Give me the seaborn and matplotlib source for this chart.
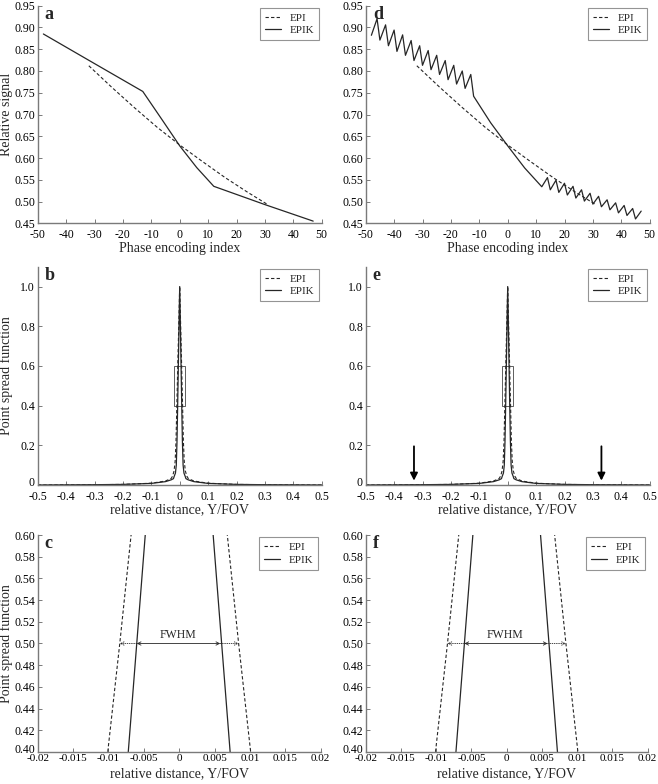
import numpy as np
import matplotlib
matplotlib.use('Agg')
import matplotlib.pyplot as plt
from matplotlib.patches import Rectangle
from matplotlib.transforms import ScaledTranslation
import seaborn as sns

# ---------------------------------------------------------------
# dados

# sinal relativo x índice de codificação de fase (EPI, igual em a e d)
epi_idx = [-32, -24, -16, -8, 0, 8, 16, 24, 31]
epi_sig = [0.812, 0.763, 0.716, 0.671, 0.630, 0.592, 0.555, 0.521, 0.493]

# EPIK, painel a (segmentos lineares)
epik_a_idx = [-48, -30, -13, -6, 0, 6, 12, 30, 47]
epik_a_sig = [0.885, 0.817, 0.753, 0.686, 0.628, 0.578, 0.535, 0.493, 0.455]

# EPIK, painel d (dente de serra nas bordas)
epik_d_idx = [-48, -46, -45, -43, -42, -40, -39, -37, -36, -34, -33, -31, -30,
              -28, -27, -25, -24, -22, -21, -19, -18, -16, -15, -13, -12,
              -6, 0, 6,
              12, 14, 15, 17, 18, 20, 21, 23, 24, 26, 27, 29, 30, 32, 33,
              35, 36, 38, 39, 41, 42, 44, 45, 47]
epik_d_sig = [0.882, 0.920, 0.871, 0.906, 0.858, 0.894, 0.845, 0.883, 0.836,
              0.870, 0.824, 0.858, 0.813, 0.847, 0.803, 0.836, 0.792, 0.824,
              0.780, 0.813, 0.770, 0.800, 0.760, 0.792, 0.742,
              0.681, 0.628, 0.577,
              0.534, 0.555, 0.527, 0.549, 0.521, 0.542, 0.515, 0.535, 0.508,
              0.527, 0.501, 0.519, 0.494, 0.512, 0.488, 0.504, 0.481, 0.497,
              0.474, 0.491, 0.468, 0.484, 0.460, 0.478]

# função de espalhamento pontual (metade positiva, espelhada depois)
psf_epi_x = [0, 0.0068, 0.0084, 0.0101, 0.013, 0.016, 0.020, 0.025, 0.030,
             0.05, 0.1, 0.2, 0.3, 0.4, 0.5]
psf_epi_y = [1.0, 0.60, 0.50, 0.40, 0.22, 0.12, 0.07, 0.045, 0.033,
             0.020, 0.009, 0.003, 0.0015, 0.0008, 0.0]
psf_epik_x = [0, 0.0048, 0.0060, 0.0072, 0.0095, 0.012, 0.015, 0.019, 0.022,
              0.03, 0.05, 0.1, 0.2, 0.3, 0.4, 0.5]
psf_epik_y = [1.0, 0.60, 0.50, 0.40, 0.22, 0.10, 0.06, 0.045, 0.032,
              0.026, 0.017, 0.008, 0.003, 0.0015, 0.0008, 0.0]

# FWHM (limites a meia altura)
fwhm_epik = [-0.0060, 0.0058]
fwhm_epi = [-0.0084, 0.0084]

# ticks
ticks_a = [-50, -40, -30, -20, -10, 0, 10, 20, 30, 40, 50]
yticks_a = [0.45, 0.50, 0.55, 0.60, 0.65, 0.70, 0.75, 0.80, 0.85, 0.90, 0.95]
ticks_b = [-0.5, -0.4, -0.3, -0.2, -0.1, 0, 0.1, 0.2, 0.3, 0.4, 0.5]
labels_b = ['-0.5', '-0.4', '-0.3', '-0.2', '-0.1', '0', '0.1', '0.2', '0.3', '0.4', '0.5']
yticks_b = [0, 0.2, 0.4, 0.6, 0.8, 1.0]
ylabels_b = ['0', '0.2', '0.4', '0.6', '0.8', '1.0']
ticks_c = [-0.02, -0.015, -0.01, -0.005, 0, 0.005, 0.01, 0.015, 0.02]
labels_c = ['-0.02', '-0.015', '-0.01', '-0.005', '0', '0.005', '0.01', '0.015', '0.02']
yticks_c = [0.40, 0.42, 0.44, 0.46, 0.48, 0.50, 0.52, 0.54, 0.56, 0.58, 0.60]

arrow_x = [-0.33, 0.33]

# ---------------------------------------------------------------
sns.set_theme(style='ticks')
plt.rcParams['font.family'] = ['Liberation Serif', 'DejaVu Serif']
plt.rcParams['axes.unicode_minus'] = False

LINE = '#262626'
SPINE = '#7a7a7a'
DASH = (0, (3, 2))

# espelhar a PSF
def mirror(x, y):
    x = np.array(x)
    y = np.array(y)
    return np.concatenate([-x[:0:-1], x]), np.concatenate([y[:0:-1], y])

pex, pey = mirror(psf_epi_x, psf_epi_y)
pkx, pky = mirror(psf_epik_x, psf_epik_y)

fig = plt.figure(figsize=(6.58, 7.84), dpi=100)

def novo_eixo(left, top, bottom, width=284):
    return fig.add_axes([left / 658, 1 - bottom / 784, width / 658, (bottom - top) / 784])

def estilo(ax, letra, xlabel, ylabel, xlab_y, xpad=4, tsize=8.5, sobe=False):
    sns.despine(ax=ax)
    for s in ['left', 'bottom']:
        ax.spines[s].set_color(SPINE)
        ax.spines[s].set_linewidth(1.0)
    ax.tick_params(direction='in', length=3, width=0.7, labelsize=8.5,
                   colors='black')
    ax.tick_params(axis='both', color=SPINE)
    ax.tick_params(axis='x', pad=xpad, labelsize=tsize)
    ax.tick_params(axis='y', pad=2)
    if sobe:
        # primeiro rótulo do eixo y um pouco acima para não encostar no eixo x
        lab = ax.get_yticklabels()[0]
        lab.set_transform(lab.get_transform() +
                          ScaledTranslation(0, 2.5 / 72, fig.dpi_scale_trans))
    ax.text(0.025, 1.0, letra, transform=ax.transAxes, ha='left', va='top',
            fontsize=13, fontweight='bold')
    ax.set_xlabel(xlabel, fontsize=10)
    ax.xaxis.set_label_coords(0.5, xlab_y)
    if ylabel:
        ax.set_ylabel(ylabel, fontsize=10)
        ax.yaxis.set_label_coords(-0.087, 0.5)
    else:
        ax.set_ylabel('')
    leg = ax.legend(loc='upper right', fontsize=8, frameon=True, fancybox=False,
                    edgecolor=SPINE, handlelength=1.4, handletextpad=0.8,
                    borderpad=0.45, labelspacing=0.25, borderaxespad=0.2)
    leg.get_frame().set_linewidth(0.8)
    ax.grid(False)

def sinal(ax, epik_x, epik_y, letra, ylabel):
    sns.lineplot(x=epi_idx, y=epi_sig, ax=ax, color=LINE, lw=0.8,
                 linestyle=DASH, label='EPI')
    sns.lineplot(x=epik_x, y=epik_y, ax=ax, color=LINE, lw=0.9, label='EPIK')
    ax.set_xlim(-50, 50)
    ax.set_ylim(0.45, 0.95)
    ax.set_xticks(ticks_a)
    ax.set_yticks(yticks_a)
    ax.set_yticklabels(['%.2f' % v for v in yticks_a])
    estilo(ax, letra, 'Phase encoding index', ylabel, -0.085)

def psf(ax, letra, ylabel, setas):
    sns.lineplot(x=pex, y=pey, ax=ax, color=LINE, lw=0.8, linestyle=DASH,
                 label='EPI', sort=False)
    sns.lineplot(x=pkx, y=pky, ax=ax, color=LINE, lw=0.9, label='EPIK', sort=False)
    ax.add_patch(Rectangle((-0.02, 0.4), 0.04, 0.2, fill=False, lw=0.6, ec='#444444'))
    ax.set_xlim(-0.5, 0.5)
    ax.set_ylim(0, 1.1)
    ax.set_xticks(ticks_b)
    ax.set_xticklabels(labels_b)
    ax.set_yticks(yticks_b)
    ax.set_yticklabels(ylabels_b)
    if setas:
        for xa in arrow_x:
            ax.annotate('', xy=(xa, 0.022), xytext=(xa, 0.195),
                        arrowprops=dict(arrowstyle='-|>', color='black', lw=1.3,
                                        mutation_scale=11, shrinkA=0, shrinkB=0))
    estilo(ax, letra, 'relative distance, Y/FOV', ylabel, -0.085, sobe=True)

def zoom_psf(ax, letra, ylabel):
    sns.lineplot(x=pex, y=pey, ax=ax, color=LINE, lw=0.8, linestyle=DASH,
                 label='EPI', sort=False)
    sns.lineplot(x=pkx, y=pky, ax=ax, color=LINE, lw=0.9, label='EPIK', sort=False)
    ax.set_xlim(-0.02, 0.02)
    ax.set_ylim(0.40, 0.60)
    ax.set_xticks(ticks_c)
    ax.set_xticklabels(labels_c)
    ax.set_yticks(yticks_c)
    ax.set_yticklabels(['%.2f' % v for v in yticks_c])
    ap = dict(arrowstyle='<->', color=LINE, lw=0.6, mutation_scale=6,
              shrinkA=0, shrinkB=0)
    ax.annotate('', xy=(fwhm_epik[0], 0.5), xytext=(fwhm_epik[1], 0.5), arrowprops=ap)
    ad = dict(arrowstyle='->', color=LINE, lw=0.6, ls=':', mutation_scale=6,
              shrinkA=0, shrinkB=0)
    ax.annotate('', xy=(fwhm_epi[0], 0.5), xytext=(fwhm_epik[0], 0.5), arrowprops=ad)
    ax.annotate('', xy=(fwhm_epi[1], 0.5), xytext=(fwhm_epik[1], 0.5), arrowprops=ad)
    ax.text(-0.0002, 0.5025, 'FWHM', ha='center', va='bottom', fontsize=8.5)
    estilo(ax, letra, 'relative distance, Y/FOV', ylabel, -0.072, xpad=1.5,
           tsize=8, sobe=True)

ax_a = novo_eixo(37.7, 5.7, 223.3)
ax_d = novo_eixo(365.7, 5.7, 223.3)
ax_b = novo_eixo(37.7, 266.7, 485)
ax_e = novo_eixo(365.7, 266.7, 485)
ax_c = novo_eixo(37.7, 535, 752, 283)
ax_f = novo_eixo(365.7, 535, 752, 282)

sinal(ax_a, epik_a_idx, epik_a_sig, 'a', 'Relative signal')
sinal(ax_d, epik_d_idx, epik_d_sig, 'd', None)
psf(ax_b, 'b', 'Point spread function', False)
psf(ax_e, 'e', None, True)
zoom_psf(ax_c, 'c', 'Point spread function')
zoom_psf(ax_f, 'f', None)

fig.savefig('out.png', dpi=100, facecolor='white')
